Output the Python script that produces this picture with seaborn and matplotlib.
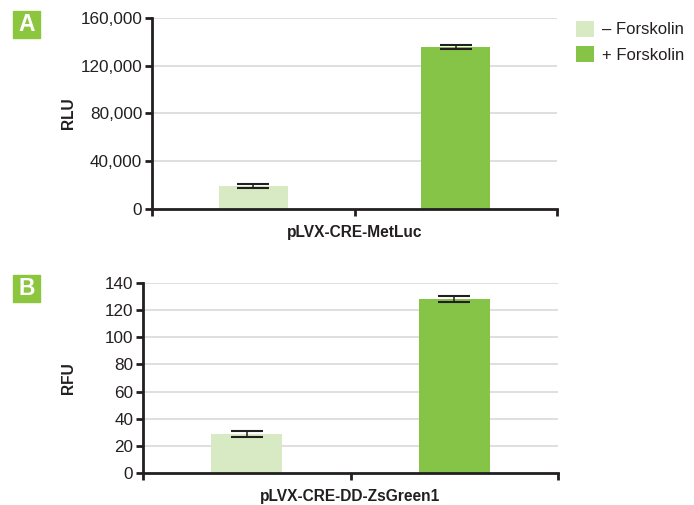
import matplotlib
matplotlib.use("Agg")
import matplotlib.pyplot as plt
import matplotlib.patches as mpatches
import seaborn as sns
import pandas as pd

# Data
treatments = ["– Forskolin", "+ Forskolin"]
rlu_means = [19500, 136000]
rlu_errs = [1500, 1600]
rfu_means = [28.7, 128.5]
rfu_errs = [2.0, 2.2]
construct_a = "pLVX-CRE-MetLuc"
construct_b = "pLVX-CRE-DD-ZsGreen1"
rlu_ticks = [0, 40000, 80000, 120000, 160000]
rfu_ticks = [0, 20, 40, 60, 80, 100, 120, 140]

light_green = "#d7eac4"
dark_green = "#85c446"
badge_green = "#8cc63f"
ink = "#231f20"
grid_col = "#d9d9d9"

sns.set_theme(style="white")
plt.rcParams["font.family"] = ["Liberation Sans", "DejaVu Sans"]

fig = plt.figure(figsize=(6.94, 5.05), dpi=100)
W, H = 694, 505


def axes_px(left, top, right, bottom):
    return fig.add_axes([left / W, 1 - bottom / H, (right - left) / W, (bottom - top) / H])


ax_a = axes_px(152, 18, 557, 209)
ax_b = axes_px(143, 283, 558, 473)


def panel(ax, means, errs, ticks, fmt, xlabel, ylabel, xlabel_top):
    df = pd.DataFrame({"Treatment": treatments, "Value": means})
    sns.barplot(data=df, x="Treatment", y="Value", hue="Treatment",
                palette=[light_green, dark_green], saturation=1, width=0.34,
                errorbar=None, legend=False, ax=ax, zorder=2,
                edgecolor="none", linewidth=0)
    ax.errorbar(range(len(means)), means, yerr=errs, fmt="none",
                ecolor=ink, elinewidth=1.1, capsize=11.5, capthick=1.5, zorder=3)
    ax.set_ylim(0, ticks[-1])
    ax.set_xlim(-0.5, 1.5)
    ax.set_yticks(ticks)
    ax.set_yticklabels([fmt(t) for t in ticks])
    ax.set_xticks([-0.5, 0.5, 1.5])
    ax.set_xticklabels(["", "", ""])
    for t in ticks[1:]:
        ax.axhline(t, color=grid_col, lw=1.2, zorder=1)
    for s in ["top", "right"]:
        ax.spines[s].set_visible(False)
    for s in ["left", "bottom"]:
        ax.spines[s].set_color(ink)
        ax.spines[s].set_linewidth(2.0)
        ax.spines[s].set_zorder(4)
    ax.tick_params(axis="y", direction="out", length=5, width=2, color=ink,
                   labelsize=12.3, labelcolor=ink, pad=2, left=True)
    ax.tick_params(axis="x", direction="out", length=5, width=2, color=ink,
                   bottom=True)
    ax.set_xlabel(xlabel, fontsize=11.2, fontweight="bold", color=ink)
    ax.set_ylabel(ylabel, fontsize=11.2, fontweight="bold", color=ink)
    pos = ax.get_position()
    ax.xaxis.set_label_coords((pos.x0 + pos.x1) / 2, 1 - xlabel_top / H,
                              transform=fig.transFigure)
    ax.yaxis.set_label_coords(76 / W, (pos.y0 + pos.y1) / 2,
                              transform=fig.transFigure)


panel(ax_a, rlu_means, rlu_errs, rlu_ticks, lambda v: f"{v:,}", construct_a, "RLU", 225)
panel(ax_b, rfu_means, rfu_errs, rfu_ticks, lambda v: f"{v}", construct_b, "RFU", 489)

# Panel badges
for letter, top in [("A", 11), ("B", 275)]:
    fig.patches.append(mpatches.Rectangle((13 / W, 1 - (top + 27) / H), 27 / W, 27 / H,
                                          transform=fig.transFigure, color=badge_green,
                                          zorder=5))
    fig.text(26.5 / W, 1 - (top + 13.5) / H, letter, color="white", fontsize=16.5,
             fontweight="bold", ha="center", va="center", zorder=6)

# Legend
handles = [mpatches.Patch(facecolor=c, edgecolor="none", label=l)
           for c, l in zip([light_green, dark_green], treatments)]
fig.legend(handles=handles, loc="upper left", bbox_to_anchor=(569 / W, 1 - 14 / H),
           frameon=False, fontsize=12, handlelength=1.1, handleheight=1.1,
           handletextpad=0.5, labelspacing=0.55, labelcolor=ink, borderaxespad=0)

fig.savefig("out.png", dpi=100)
